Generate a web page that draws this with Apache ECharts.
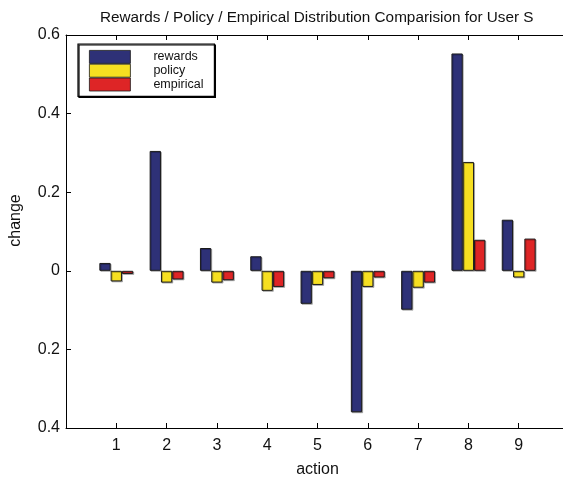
<!DOCTYPE html>
<html><head><meta charset="utf-8">
<script src="https://cdn.jsdelivr.net/npm/echarts@6/dist/echarts.min.js"></script>
<style>html,body{margin:0;padding:0;background:#fff}#c{width:563px;height:479px}</style>
</head><body><div id="c"></div>
<script>
const categories = ['', '1', '2', '3', '4', '5', '6', '7', '8', '9', ''];
const rewards   = [null, 0.020, 0.305, 0.058, 0.037, -0.084, -0.360, -0.099, 0.553, 0.130, null];
const policy    = [null, -0.027, -0.030, -0.030, -0.051, -0.036, -0.041, -0.043, 0.277, -0.017, null];
const empirical = [null, -0.008, -0.022, -0.024, -0.041, -0.019, -0.017, -0.030, 0.079, 0.082, null];
const yTickLabels = ['0.4', '0.2', '0', '0.2', '0.4', '0.6'];

const font = 'Liberation Sans, Arial, Helvetica, sans-serif';
const chart = echarts.init(document.getElementById('c'), null, {renderer: 'canvas'});
const barStyle = (c) => ({color: c, borderColor: '#1a1a1a', borderWidth: 1,
  shadowColor: 'rgba(0,0,0,0.25)', shadowOffsetX: 1, shadowOffsetY: 1, shadowBlur: 0});
chart.setOption({
  animation: false,
  backgroundColor: '#fff',
  title: {text: 'Rewards / Policy / Empirical Distribution Comparision for User S',
    left: 95, top: 5,
    textStyle: {fontFamily: font, fontSize: 15.3, fontWeight: 'normal', color: '#111'}},
  grid: {left: 66, top: 35, bottom: 51, right: -6, containLabel: false, outerBoundsMode: 'none'},
  legend: {orient: 'vertical', left: 78, top: 44, itemWidth: 41, itemHeight: 13, itemGap: 0,
    padding: [6, 11, 5, 11], borderColor: '#000', borderWidth: 1.2, backgroundColor: '#fff',
    shadowColor: '#000', shadowOffsetX: 1, shadowOffsetY: 1, shadowBlur: 0,
    icon: 'rect',
    itemStyle: {borderWidth: 0.8, borderColor: '#1a1a1a', shadowColor: 'transparent', shadowOffsetX: 0, shadowOffsetY: 0},
    textStyle: {fontFamily: font, fontSize: 12.5, color: '#111', padding: [0, 0, 0, 18], lineHeight: 13, height: 13},
    data: ['rewards', 'policy', 'empirical']},
  xAxis: [{type: 'category', data: categories, boundaryGap: false,
    name: 'action', nameLocation: 'middle', nameGap: 34,
    nameTextStyle: {fontFamily: font, fontSize: 16, color: '#111'},
    axisLine: {onZero: false, lineStyle: {color: '#000', width: 1}},
    axisTick: {inside: true, length: 5, lineStyle: {color: '#000'}},
    axisLabel: {fontFamily: font, fontSize: 16, color: '#111', margin: 10, interval: 0},
    splitLine: {show: false}},
   {type: 'category', data: categories, boundaryGap: false, position: 'top',
    axisLine: {onZero: false, lineStyle: {color: '#000', width: 1}},
    axisTick: {inside: true, length: 5, lineStyle: {color: '#000'}},
    axisLabel: {show: false}, splitLine: {show: false}}],
  yAxis: {type: 'value', min: -0.4, max: 0.6, interval: 0.2,
    name: 'change', nameLocation: 'middle', nameGap: 42, nameRotate: 90,
    nameTextStyle: {fontFamily: font, fontSize: 16, color: '#111', padding: [0, 0, 0, 22]},
    axisLine: {show: true, onZero: false, lineStyle: {color: '#000', width: 1}},
    axisTick: {show: true, inside: true, length: 5, lineStyle: {color: '#000'}},
    axisLabel: {fontFamily: font, fontSize: 16, color: '#111', margin: 6,
      formatter: (v, i) => yTickLabels[i]},
    splitLine: {show: false}},
  series: [
    {name: 'rewards', type: 'bar', data: rewards, barWidth: 11.3, barGap: '0%', itemStyle: barStyle('#2e3177')},
    {name: 'policy', type: 'bar', data: policy, barWidth: 11.3, barGap: '0%', itemStyle: barStyle('#f6df21')},
    {name: 'empirical', type: 'bar', data: empirical, barWidth: 11.3, barGap: '0%', itemStyle: barStyle('#de2526')}
  ]
});
</script></body></html>
